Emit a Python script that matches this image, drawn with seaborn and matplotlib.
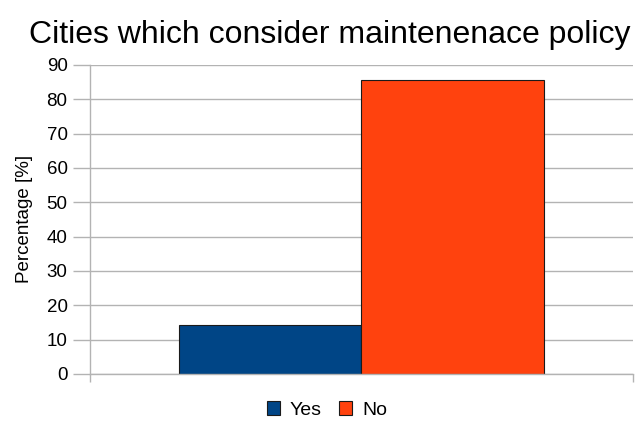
import matplotlib
matplotlib.use("Agg")
import matplotlib.pyplot as plt
import seaborn as sns
import pandas as pd

categories = ["Cities"]
responses = ["Yes", "No"]
percentages = [14.3, 85.7]
colors = ["#004586", "#ff420e"]

df = pd.DataFrame({"cat": categories * 2, "resp": responses, "pct": percentages})

sns.set_theme(style="white")
plt.rcParams['font.family'] = ['Liberation Sans', 'DejaVu Sans']
plt.rcParams['text.color'] = 'black'
plt.rcParams['ytick.labelcolor'] = 'black'

fig = plt.figure(figsize=(6.37, 4.24), dpi=100)
ax = fig.add_axes([0.141, 0.118, 0.853, 0.729])

sns.barplot(data=df, x="cat", y="pct", hue="resp", hue_order=responses,
            palette=colors, width=0.67, ax=ax, edgecolor="#1a1a1a", linewidth=0.8,
            saturation=1, legend=True)

ax.set_xlim(-0.5, 0.5)
ax.set_ylim(0, 90)
ax.set_yticks(range(0, 91, 10))
ax.yaxis.grid(True, color="#b3b3b3", linewidth=1)
ax.set_axisbelow(True)
ax.set_xticks([-0.5, 0.5])
ax.set_xticklabels(["", ""])
ax.tick_params(axis="x", length=6, width=1, color="#b3b3b3", direction="out", bottom=True)
ax.tick_params(axis="y", length=12, width=1, color="#b3b3b3", direction="out", left=True,
               labelsize=13.5, pad=4, labelcolor="black")
for s in ["top", "right"]:
    ax.spines[s].set_visible(False)
for s in ["left", "bottom"]:
    ax.spines[s].set_color("#b3b3b3")
    ax.spines[s].set_linewidth(1)
ax.set_xlabel("")
ax.set_ylabel("Percentage [%]", fontsize=13.5, color="black")
ax.yaxis.set_label_coords(-0.105, 0.5)

fig.text(0.518, 0.917, "Cities which consider maintenenace policy", fontsize=23,
         ha="center", va="center", color="black")

handles, labels = ax.get_legend_handles_labels()
ax.get_legend().remove()
leg = fig.legend(handles, labels, loc="center", bbox_to_anchor=(0.513, 0.033), ncol=2,
                 frameon=False, fontsize=14, handlelength=0.68, handleheight=0.68,
                 handletextpad=0.5, columnspacing=0.9, borderpad=0, borderaxespad=0)
for t in leg.get_texts():
    t.set_color("black")
for h in leg.legend_handles:
    h.set_edgecolor("#1a1a1a")
    h.set_linewidth(0.8)

fig.savefig("out.png", dpi=100)
